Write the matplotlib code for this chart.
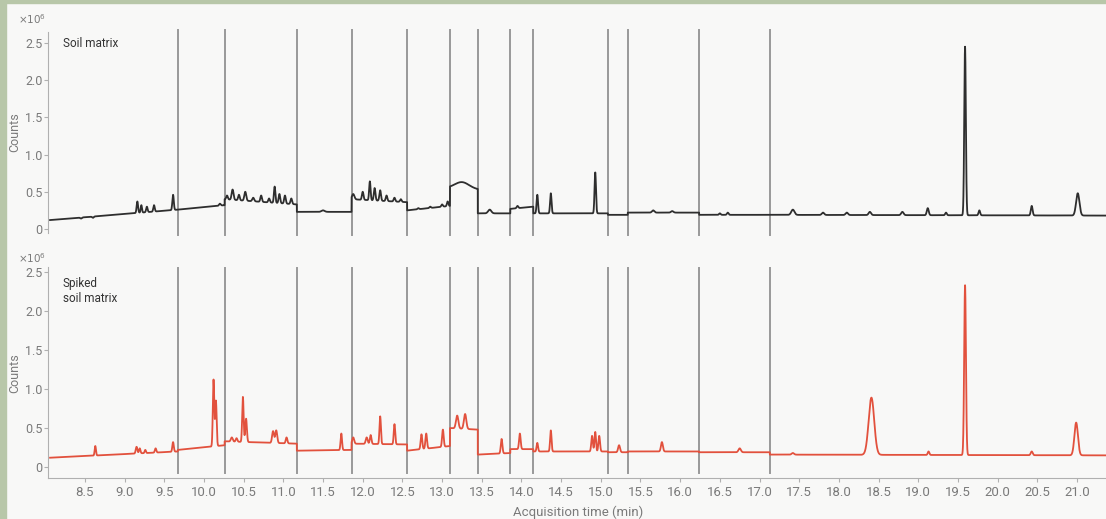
import numpy as np
import matplotlib
matplotlib.use("Agg")
import matplotlib.pyplot as plt
from matplotlib.patches import Rectangle

# ---------------- data ----------------
segment_bounds = [8.06, 9.67, 10.26, 11.17, 11.86, 12.56, 13.10, 13.45,
                  13.86, 14.15, 15.09, 15.34, 16.24, 17.13, 21.37]

soil_base_start = [0.12, 0.26, 0.40, 0.23, 0.40, 0.25, 0.55, 0.21, 0.27, 0.21, 0.19, 0.22, 0.19, 0.19]
soil_base_end   = [0.26, 0.32, 0.33, 0.23, 0.36, 0.31, 0.53, 0.21, 0.30, 0.21, 0.19, 0.22, 0.19, 0.18]
soil_peak_time  = [8.45, 8.60, 9.16, 9.21, 9.28, 9.37, 9.61, 10.20,
                   10.29, 10.36, 10.44, 10.52, 10.62, 10.72, 10.82, 10.89, 10.95, 11.02, 11.10,
                   11.50, 11.88, 12.00, 12.09, 12.15, 12.22, 12.30, 12.40, 12.48,
                   12.70, 12.85, 13.00, 13.07, 13.25, 13.60, 13.95,
                   14.20, 14.37, 14.93, 15.66, 15.90, 16.50, 16.60,
                   17.42, 17.80, 18.10, 18.39, 18.80, 19.12, 19.35, 19.59, 19.77, 20.43, 21.01]
soil_peak_apex  = [0.14, 0.15, 0.37, 0.32, 0.30, 0.32, 0.46, 0.34,
                   0.45, 0.53, 0.46, 0.50, 0.42, 0.45, 0.41, 0.57, 0.47, 0.45, 0.41,
                   0.25, 0.47, 0.50, 0.64, 0.55, 0.52, 0.45, 0.42, 0.40,
                   0.28, 0.30, 0.33, 0.37, 0.63, 0.26, 0.31,
                   0.46, 0.48, 0.76, 0.25, 0.24, 0.21, 0.22,
                   0.26, 0.22, 0.22, 0.23, 0.23, 0.28, 0.22, 2.45, 0.25, 0.31, 0.48]
soil_peak_width = [0.010, 0.010, 0.009, 0.008, 0.009, 0.009, 0.009, 0.010,
                   0.010, 0.012, 0.010, 0.012, 0.012, 0.010, 0.010, 0.009, 0.010, 0.010, 0.010,
                   0.020, 0.015, 0.010, 0.009, 0.010, 0.010, 0.010, 0.010, 0.010,
                   0.010, 0.010, 0.010, 0.009, 0.090, 0.020, 0.010,
                   0.009, 0.009, 0.009, 0.015, 0.015, 0.010, 0.010,
                   0.020, 0.015, 0.015, 0.015, 0.015, 0.012, 0.010, 0.010, 0.010, 0.011, 0.021]

spiked_base_start = [0.12, 0.22, 0.33, 0.21, 0.30, 0.21, 0.50, 0.16, 0.23, 0.20, 0.19, 0.20, 0.19, 0.16]
spiked_base_end   = [0.20, 0.28, 0.30, 0.22, 0.29, 0.27, 0.48, 0.18, 0.23, 0.20, 0.19, 0.20, 0.19, 0.15]
spiked_peak_time  = [8.63, 9.15, 9.19, 9.26, 9.39, 9.61, 10.12, 10.15,
                     10.35, 10.41, 10.49, 10.53, 10.87, 10.91, 11.04,
                     11.73, 11.88, 12.05, 12.10, 12.22, 12.40,
                     12.74, 12.80, 13.01, 13.19, 13.29,
                     13.75, 13.98, 14.20, 14.37, 14.89, 14.93, 14.98,
                     15.23, 15.77, 16.75, 17.42, 18.41, 19.13, 19.59, 20.43, 20.99]
spiked_peak_apex  = [0.27, 0.26, 0.24, 0.22, 0.24, 0.32, 1.12, 0.85,
                     0.38, 0.37, 0.90, 0.62, 0.46, 0.47, 0.38,
                     0.43, 0.38, 0.38, 0.41, 0.65, 0.55,
                     0.42, 0.43, 0.48, 0.66, 0.68,
                     0.36, 0.43, 0.31, 0.47, 0.40, 0.45, 0.40,
                     0.28, 0.32, 0.24, 0.18, 0.89, 0.20, 2.33, 0.20, 0.57]
spiked_peak_width = [0.008, 0.010, 0.009, 0.008, 0.009, 0.009, 0.009, 0.009,
                     0.012, 0.010, 0.009, 0.010, 0.012, 0.012, 0.010,
                     0.009, 0.012, 0.012, 0.010, 0.009, 0.009,
                     0.010, 0.010, 0.010, 0.015, 0.015,
                     0.010, 0.010, 0.009, 0.009, 0.010, 0.009, 0.010,
                     0.012, 0.012, 0.015, 0.015, 0.035, 0.010, 0.011, 0.012, 0.022]

x_ticks = [8.5, 9.0, 9.5, 10.0, 10.5, 11.0, 11.5, 12.0, 12.5, 13.0, 13.5, 14.0,
           14.5, 15.0, 15.5, 16.0, 16.5, 17.0, 17.5, 18.0, 18.5, 19.0, 19.5,
           20.0, 20.5, 21.0]
y_ticks = [0, 0.5, 1.0, 1.5, 2.0, 2.5]
y_ticklabels = ["0", "0.5", "1.0", "1.5", "2.0", "2.5"]


def build_trace(b_start, b_end, p_t, p_a, p_w):
    ts, ys = [], []
    for i in range(len(segment_bounds) - 1):
        t0, t1 = segment_bounds[i], segment_bounds[i + 1]
        t = np.arange(t0, t1, 0.0015)
        base = b_start[i] + (b_end[i] - b_start[i]) * (t - t0) / (t1 - t0)
        y = base.copy()
        for tp, ap, w in zip(p_t, p_a, p_w):
            if t0 <= tp < t1:
                bp = b_start[i] + (b_end[i] - b_start[i]) * (tp - t0) / (t1 - t0)
                y += (ap - bp) * np.exp(-0.5 * ((t - tp) / w) ** 2)
        ts.append(t)
        ys.append(y)
    return np.concatenate(ts), np.concatenate(ys)


t_soil, y_soil = build_trace(soil_base_start, soil_base_end, soil_peak_time, soil_peak_apex, soil_peak_width)
t_sp, y_sp = build_trace(spiked_base_start, spiked_base_end, spiked_peak_time, spiked_peak_apex, spiked_peak_width)

# ---------------- figure ----------------
plt.rcParams['font.family'] = ['Roboto', 'DejaVu Sans']
W, H = 1106, 519
fig = plt.figure(figsize=(W / 100, H / 100), dpi=100, facecolor='#f8f8f7')
fig.patches.append(Rectangle((0, 0), 6 / W, 1, transform=fig.transFigure, color='#b8c7a9', zorder=0))
fig.patches.append(Rectangle((0, 1 - 3 / H), 1, 3 / H, transform=fig.transFigure, color='#b8c7a9', zorder=0))

ax1 = fig.add_axes([48 / W, 286.3 / H, 1058 / W, 200.9 / H])
ax2 = fig.add_axes([48 / W, 41 / H, 1058 / W, 210.7 / H])

gray_txt = '#7a7a7a'
vline_col = '#999999'
xlim = (8.034, 21.366)

for ax in (ax1, ax2):
    ax.set_facecolor('none')
    ax.set_xlim(*xlim)
    ax.set_yticks(y_ticks)
    ax.set_yticklabels(y_ticklabels)
    for s in ('top', 'right'):
        ax.spines[s].set_visible(False)
    ax.spines['left'].set_color('#b0b0b0')
    ax.spines['left'].set_linewidth(0.8)
    ax.tick_params(axis='y', colors='#b0b0b0', labelcolor=gray_txt, labelsize=9,
                   length=3, width=0.8, pad=1)
    ax.set_ylabel('Counts', color=gray_txt, fontsize=9, labelpad=3)

ax1.set_ylim(-0.05, 2.65)
ax2.set_ylim(-0.14, 2.56)

ax1.spines['bottom'].set_visible(False)
ax1.set_xticks([])

ax2.spines['bottom'].set_color('#b0b0b0')
ax2.spines['bottom'].set_linewidth(0.8)
ax2.set_xticks(x_ticks)
ax2.set_xticklabels([f"{v:.1f}" for v in x_ticks])
ax2.tick_params(axis='x', colors='#b0b0b0', labelcolor=gray_txt, labelsize=9.5,
                length=3, width=0.8, pad=3)

for xb in segment_bounds[1:-1]:
    ax1.plot([xb, xb], [-0.08, 2.67], color=vline_col, lw=1.4, clip_on=False, zorder=1)
    ax2.plot([xb, xb], [-0.076, 2.55], color=vline_col, lw=1.4, clip_on=False, zorder=1)

ax1.plot(t_soil, y_soil, color='#2e2e2e', lw=1.3, zorder=3)
ax2.plot(t_sp, y_sp, color='#e2513d', lw=1.3, zorder=3)

ax1.text(0.014, 0.94, 'Soil matrix', transform=ax1.transAxes, fontsize=8.5,
         color='#333333', va='center', ha='left')
ax2.text(0.014, 0.887, 'Spiked\nsoil matrix', transform=ax2.transAxes, fontsize=8.5,
         color='#333333', va='center', ha='left', linespacing=1.15)

fig.text(18 / W, 1 - 19 / H, r'$\times10^6$', fontsize=7.5, color=gray_txt, ha='left', va='center')
fig.text(18 / W, 1 - 258 / H, r'$\times10^6$', fontsize=7.5, color=gray_txt, ha='left', va='center')

fig.text(578 / W, 1 - 512 / H, 'Acquisition time (min)', fontsize=9.5, color=gray_txt,
         ha='center', va='center')

fig.savefig('out.png', dpi=100, facecolor=fig.get_facecolor())
